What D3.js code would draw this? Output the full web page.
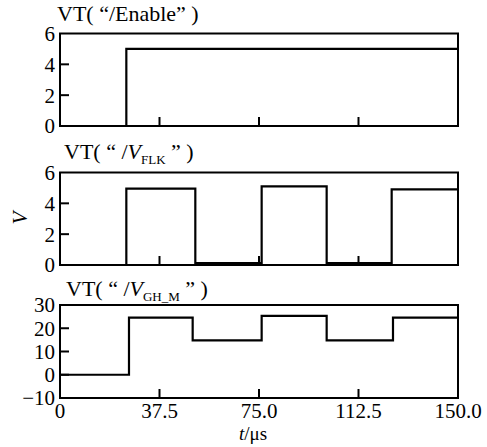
<!DOCTYPE html>
<html>
<head>
<meta charset="utf-8">
<script src="https://cdn.jsdelivr.net/npm/d3@7"></script>
</head>
<body style="margin:0">
<script>
// step signals: [time in µs, level]
var enableSteps = [[0, 0], [25, 5], [150, 5]];
var flkSteps = [[0, 0], [25, 4.95], [51, 0.12], [76, 5.1], [100.5, 0.12], [125, 4.9], [150, 4.9]];
var ghSteps = [[0, 0], [26, 24.6], [50, 14.8], [76, 25.3], [100.5, 14.8], [125.5, 24.6], [150, 24.6]];

var xTicks = [0, 37.5, 75, 112.5, 150];
var xTickLabels = ["0", "37.5", "75.0", "112.5", "150.0"];
var smallTicks = [0, 2, 4, 6];
var ghTicks = [-10, 0, 10, 20, 30];

var width = 487, height = 447;
var left = 60, right = 458;
var fontName = ["Liberation", "Serif"].join(" ");

var svg = d3.select("body").append("svg")
  .attr("width", width)
  .attr("height", height);

var x = d3.scaleLinear().domain([0, 150]).range([left, right]);

var panels = [
  { data: enableSteps, domain: [0, 6], ticks: smallTicks, top: 33.5, bottom: 126, title: "Enable", titleX: 57, titleY: 21 },
  { data: flkSteps, domain: [0, 6], ticks: smallTicks, top: 172.5, bottom: 265, title: "FLK", titleX: 64, titleY: 159 },
  { data: ghSteps, domain: [-10, 30], ticks: ghTicks, top: 305, bottom: 398, title: "GH_M", titleX: 66, titleY: 296 }
];

function serifText(sel, size) {
  return sel.style("font-family", function(){ return "'" + fontName + "'"; })
    .style("font-size", size + "px");
}

panels.forEach(function(p, i) {
  var y = d3.scaleLinear().domain(p.domain).range([p.bottom, p.top]);
  var g = svg.append("g");

  // inward ticks along bottom
  g.selectAll(".xt")
    .data(xTicks.slice(1, -1))
    .enter().append("line")
    .attr("x1", function(d){ return x(d); })
    .attr("x2", function(d){ return x(d); })
    .attr("y1", p.bottom)
    .attr("y2", p.bottom - 9)
    .attr("stroke", "#000")
    .attr("stroke-width", 2);

  // inward ticks on left
  g.selectAll(".yt")
    .data(p.ticks.slice(1, -1))
    .enter().append("line")
    .attr("x1", left)
    .attr("x2", left + 9)
    .attr("y1", function(d){ return y(d); })
    .attr("y2", function(d){ return y(d); })
    .attr("stroke", "#000")
    .attr("stroke-width", 2);

  serifText(g.selectAll(".yl")
    .data(p.ticks)
    .enter().append("text")
    .attr("x", left - 5)
    .attr("y", function(d){ return y(d); })
    .attr("dy", "0.35em")
    .attr("text-anchor", "end"), 21)
    .text(function(d){ return d < 0 ? "\u2212" + Math.abs(d) : d; });

  var line = d3.line()
    .x(function(d){ return x(d[0]); })
    .y(function(d){ return y(d[1]); })
    .curve(d3.curveStepAfter);

  g.append("path")
    .datum(p.data)
    .attr("d", line)
    .attr("fill", "none")
    .attr("stroke", "#000")
    .attr("stroke-width", 2.2);

  g.append("rect")
    .attr("x", left)
    .attr("y", p.top)
    .attr("width", right - left)
    .attr("height", p.bottom - p.top)
    .attr("fill", "none")
    .attr("stroke", "#000")
    .attr("stroke-width", 2);

  // titles
  var t = serifText(g.append("text")
    .attr("x", p.titleX)
    .attr("y", p.titleY), 22);
  if (i == 0) {
    t.text("VT( \u201c/Enable\u201d )");
  } else {
    t.append("tspan").text("VT(  \u201c /");
    t.append("tspan").style("font-style", "italic").text("V");
    t.append("tspan").attr("dy", 5).style("font-size", "13px").text(p.title);
    t.append("tspan").attr("dy", -5).text(" \u201d  )");
  }
});

// x tick labels under bottom panel
serifText(svg.selectAll(".xl")
  .data(xTicks)
  .enter().append("text")
  .attr("x", function(d){ return x(d); })
  .attr("y", 418)
  .attr("text-anchor", "middle"), 21)
  .text(function(d, i){ return xTickLabels[i]; });

// axis labels
var xl = serifText(svg.append("text")
  .attr("x", 253)
  .attr("y", 440)
  .attr("text-anchor", "middle"), 19);
xl.append("tspan").style("font-style", "italic").text("t");
xl.append("tspan").text("/\u03bcs");

serifText(svg.append("text")
  .attr("transform", "translate(27,218) rotate(-90)")
  .attr("text-anchor", "middle"), 21)
  .style("font-style", "italic")
  .text("V");
</script>
</body>
</html>
